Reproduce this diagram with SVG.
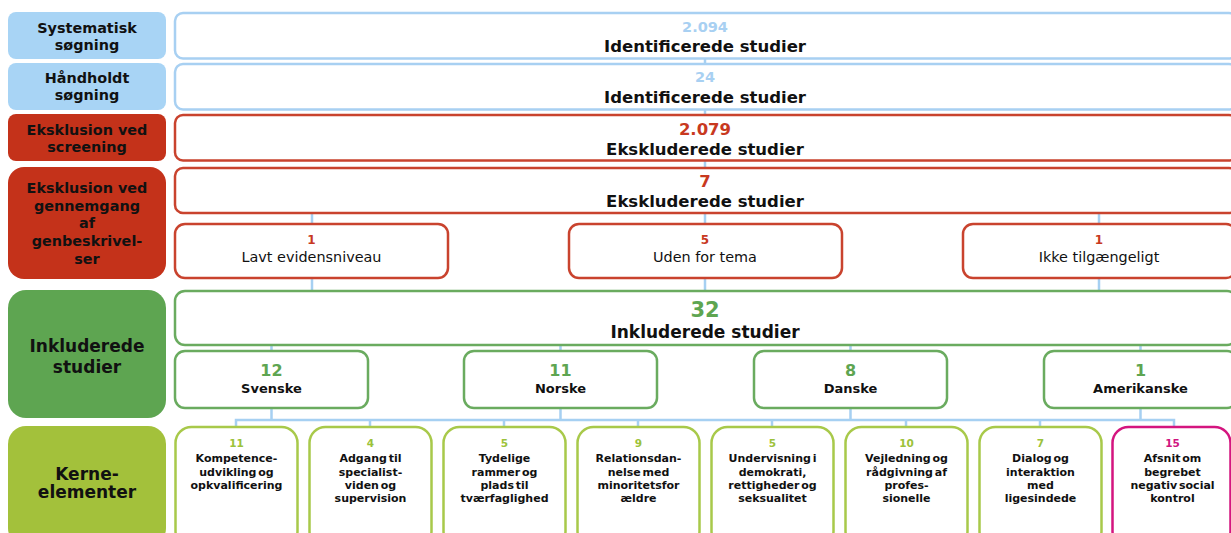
<svg xmlns="http://www.w3.org/2000/svg" width="1231" height="533" viewBox="0 0 1231 533">
<style>
text{font-family:"DejaVu Sans",Verdana,sans-serif;text-anchor:middle;font-weight:bold;fill:#111}
.lbl{font-size:14.4px}
.big{font-size:17px}
.wt{font-size:16.5px}
.nb{font-size:14.5px;fill:#a8d0f2}
.nr{font-size:16.5px;fill:#c8391f}
.ng{font-size:21px;fill:#5ea551}
.sr{font-size:12px;fill:#c8391f}
.st{font-size:14.4px;font-weight:normal}
.cn{font-size:16px;fill:#5ea551}
.ct{font-size:13px}
.kn{font-size:10.5px;fill:#9cc23a}
.km{font-size:10.5px;fill:#d0157f}
.kt{font-size:11px;word-spacing:-2px}
.fb{fill:#a8d4f5}
.fr{fill:#c4321a}
.fg{fill:#5ea551}
.fk{fill:#a3c13b}
.wb{fill:#fff;stroke:#a8d0f2;stroke-width:2.5}
.wr{fill:#fff;stroke:#c9432e;stroke-width:2.5}
.wg{fill:#fff;stroke:#6aab5f;stroke-width:2.5}
.wk{fill:#fff;stroke:#a8c94a;stroke-width:2.5}
.wm{fill:#fff;stroke:#d4157f;stroke-width:2.5}
.con{stroke:#a6d0f2;stroke-width:2.5;fill:none}
</style>

<g id="connectors" class="con">
<path d="M705 59V63M705 110V114M705 161V167"/>
<path d="M312 213V224M705 213V224M1099 213V224"/>
<path d="M312 278V290M705 278V290M1099 278V290"/>
<path d="M271.5 345V351M560.5 345V351M850.5 345V351M1140.5 345V351"/>
<path d="M271.5 408V420M560.5 408V420M850.5 408V420M1140.5 408V420"/>
<path d="M236 427V420H1174V427M370 420V427M504 420V427M638 420V427M772 420V427M906 420V427M1040 420V427"/>
</g>

<g id="label-systematisk"><rect class="fb" x="8" y="12" width="158" height="47" rx="8"/>
<text class="lbl" x="87" y="33">Systematisk</text><text class="lbl" x="87" y="50">søgning</text></g>
<g id="label-haandholdt"><rect class="fb" x="8" y="63" width="158" height="47" rx="8"/>
<text class="lbl" x="87" y="83">Håndholdt</text><text class="lbl" x="87" y="100">søgning</text></g>
<g id="label-screening"><rect class="fr" x="8" y="114" width="158" height="47" rx="8"/>
<text class="lbl" x="87" y="135">Eksklusion ved</text><text class="lbl" x="87" y="152">screening</text></g>
<g id="label-gennemgang"><rect class="fr" x="8" y="167" width="158" height="112" rx="16"/>
<text class="lbl" x="87" y="193">Eksklusion ved</text><text class="lbl" x="87" y="210.5">gennemgang</text><text class="lbl" x="87" y="228">af</text><text class="lbl" x="87" y="246">genbeskrivel-</text><text class="lbl" x="87" y="263.5">ser</text></g>
<g id="label-inkluderede"><rect class="fg" x="8" y="290" width="158" height="128" rx="18"/>
<text class="big" x="87" y="352">Inkluderede</text><text class="big" x="87" y="373">studier</text></g>
<g id="label-kerne"><rect class="fk" x="8" y="426" width="158" height="120" rx="18"/>
<text class="big" x="87" y="480">Kerne-</text><text class="big" x="87" y="498">elementer</text></g>

<g id="box-systematisk"><rect class="wb" x="175" y="13" width="1062" height="45.5" rx="8"/>
<text class="nb" x="705" y="32">2.094</text><text class="wt" x="705" y="52">Identificerede studier</text></g>
<g id="box-haandholdt"><rect class="wb" x="175" y="64" width="1062" height="45.5" rx="8"/>
<text class="nb" x="705" y="82">24</text><text class="wt" x="705" y="103">Identificerede studier</text></g>
<g id="box-screening"><rect class="wr" x="175" y="115" width="1062" height="45.5" rx="8"/>
<text class="nr" x="705" y="135">2.079</text><text class="wt" x="705" y="155">Ekskluderede studier</text></g>
<g id="box-gennemgang"><rect class="wr" x="175" y="168" width="1062" height="45" rx="8"/>
<text class="nr" x="705" y="187">7</text><text class="wt" x="705" y="207">Ekskluderede studier</text></g>

<g id="ex-lavt"><rect class="wr" x="175" y="224" width="273" height="54" rx="10"/>
<text class="sr" x="311.5" y="244">1</text><text class="st" x="311.5" y="262">Lavt evidensniveau</text></g>
<g id="ex-uden"><rect class="wr" x="569" y="224" width="273" height="54" rx="10"/>
<text class="sr" x="705" y="244">5</text><text class="st" x="705" y="262">Uden for tema</text></g>
<g id="ex-ikke"><rect class="wr" x="963" y="224" width="273" height="54" rx="10"/>
<text class="sr" x="1099" y="244">1</text><text class="st" x="1099" y="262">Ikke tilgængeligt</text></g>

<g id="box-inkluderede"><rect class="wg" x="175" y="291" width="1062" height="54" rx="10"/>
<text class="ng" x="705" y="317">32</text><text class="big" x="705" y="338">Inkluderede studier</text></g>

<g id="c-svenske"><rect class="wg" x="175" y="351" width="193" height="57" rx="10"/>
<text class="cn" x="271.5" y="376">12</text><text class="ct" x="271.5" y="393">Svenske</text></g>
<g id="c-norske"><rect class="wg" x="464" y="351" width="193" height="57" rx="10"/>
<text class="cn" x="560.5" y="376">11</text><text class="ct" x="560.5" y="393">Norske</text></g>
<g id="c-danske"><rect class="wg" x="754" y="351" width="193" height="57" rx="10"/>
<text class="cn" x="850.5" y="376">8</text><text class="ct" x="850.5" y="393">Danske</text></g>
<g id="c-amerikanske"><rect class="wg" x="1044" y="351" width="193" height="57" rx="10"/>
<text class="cn" x="1140.5" y="376">1</text><text class="ct" x="1140.5" y="393">Amerikanske</text></g>

<g id="k1"><rect class="wk" x="175.5" y="427" width="122" height="120" rx="16"/>
<text class="kn" x="236.5" y="447">11</text>
<text class="kt" x="236.5" y="462">Kompetence-</text><text class="kt" x="236.5" y="475.5">udvikling og</text><text class="kt" x="236.5" y="489">opkvalificering</text></g>
<g id="k2"><rect class="wk" x="309.5" y="427" width="122" height="120" rx="16"/>
<text class="kn" x="370.5" y="447">4</text>
<text class="kt" x="370.5" y="462">Adgang til</text><text class="kt" x="370.5" y="475.5">specialist-</text><text class="kt" x="370.5" y="489">viden og</text><text class="kt" x="370.5" y="502">supervision</text></g>
<g id="k3"><rect class="wk" x="443.5" y="427" width="122" height="120" rx="16"/>
<text class="kn" x="504.5" y="447">5</text>
<text class="kt" x="504.5" y="462">Tydelige</text><text class="kt" x="504.5" y="475.5">rammer og</text><text class="kt" x="504.5" y="489">plads til</text><text class="kt" x="504.5" y="502">tværfaglighed</text></g>
<g id="k4"><rect class="wk" x="577.5" y="427" width="122" height="120" rx="16"/>
<text class="kn" x="638.5" y="447">9</text>
<text class="kt" x="638.5" y="462">Relationsdan-</text><text class="kt" x="638.5" y="475.5">nelse med</text><text class="kt" x="638.5" y="489">minoritetsfor</text><text class="kt" x="638.5" y="502">ældre</text></g>
<g id="k5"><rect class="wk" x="711.5" y="427" width="122" height="120" rx="16"/>
<text class="kn" x="772.5" y="447">5</text>
<text class="kt" x="772.5" y="462">Undervisning i</text><text class="kt" x="772.5" y="475.5">demokrati,</text><text class="kt" x="772.5" y="489">rettigheder og</text><text class="kt" x="772.5" y="502">seksualitet</text></g>
<g id="k6"><rect class="wk" x="845.5" y="427" width="122" height="120" rx="16"/>
<text class="kn" x="906.5" y="447">10</text>
<text class="kt" x="906.5" y="462">Vejledning og</text><text class="kt" x="906.5" y="475.5">rådgivning af</text><text class="kt" x="906.5" y="489">profes-</text><text class="kt" x="906.5" y="502">sionelle</text></g>
<g id="k7"><rect class="wk" x="979.5" y="427" width="122" height="120" rx="16"/>
<text class="kn" x="1040.5" y="447">7</text>
<text class="kt" x="1040.5" y="462">Dialog og</text><text class="kt" x="1040.5" y="475.5">interaktion</text><text class="kt" x="1040.5" y="489">med</text><text class="kt" x="1040.5" y="502">ligesindede</text></g>
<g id="k8"><rect class="wm" x="1112.5" y="427" width="118" height="120" rx="16"/>
<text class="km" x="1172.5" y="447">15</text>
<text class="kt" x="1172.5" y="462">Afsnit om</text><text class="kt" x="1172.5" y="475.5">begrebet</text><text class="kt" x="1172.5" y="489">negativ social</text><text class="kt" x="1172.5" y="502">kontrol</text></g>
</svg>
